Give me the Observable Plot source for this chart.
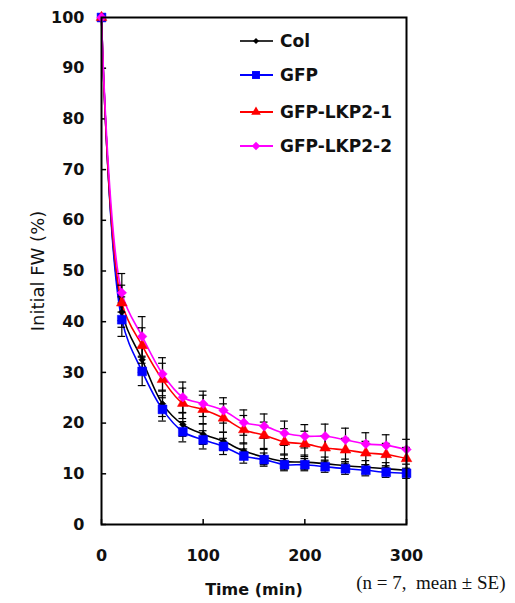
<!DOCTYPE html>
<html><head><meta charset="utf-8">
<script src="https://cdn.jsdelivr.net/npm/d3@7"></script>
<script src="https://cdn.jsdelivr.net/npm/@observablehq/plot@0.6"></script>
<style>
body{margin:0;background:#fff;}
#wrap{position:relative;width:515px;height:603px;}
#legend{position:absolute;left:0;top:0;}
</style></head>
<body><div id="wrap"></div>
<script>
const time = [0,20,40,60,80,100,120,140,160,180,200,220,240,260,280,300];
const seriesNames = ["Col","GFP","GFP-LKP2-1","GFP-LKP2-2"];
const colValues  = [100,41.9,32.5,23.8,19.7,17.8,16.4,14.5,13.3,12.4,12.3,12.0,11.6,11.3,11.0,10.7];
const gfpValues  = [100,40.4,30.2,22.7,18.3,16.7,15.4,13.5,12.8,11.8,11.8,11.4,11.0,10.7,10.3,10.1];
const lkp1Values = [100,43.7,35.3,28.6,23.9,22.7,21.0,18.7,17.6,16.3,15.9,15.1,14.7,14.1,13.8,13.0];
const lkp2Values = [100,45.7,37.1,29.7,25.1,23.8,22.5,20.1,19.4,18.0,17.4,17.4,16.7,15.9,15.6,14.8];
const colSE  = [0,3.0,2.5,2.5,2.3,2.0,1.8,1.6,1.5,1.5,1.4,1.3,1.3,1.3,1.2,1.2];
const gfpSE  = [0,3.3,2.8,2.3,2.0,1.8,1.6,1.4,1.3,1.2,1.2,1.1,1.1,1.1,1.0,1.0];
const lkp1SE = [0,3.5,3.5,3.2,3.0,2.8,2.8,2.8,2.6,2.6,2.5,2.4,2.3,2.3,2.2,2.2];
const lkp2SE = [0,3.8,3.9,3.2,3.0,2.5,2.5,2.5,2.4,2.4,2.3,2.4,2.3,2.2,2.1,2.0];
const xTicks = [0,100,200,300];
const yTicks = [0,10,20,30,40,50,60,70,80,90,100];

const colors = ["#000000","#0000ff","#ff0000","#ff00ff"];
const symbols = ["diamond2","square","triangle","diamond2"];
const radii = [3,5,4,4.3];
const allValues = [colValues,gfpValues,lkp1Values,lkp2Values];
const allSE = [colSE,gfpSE,lkp1SE,lkp2SE];

const rows = [];
seriesNames.forEach((s,k)=>time.forEach((t,i)=>rows.push({series:s,k,t,v:allValues[k][i],se:allSE[k][i]})));
const errRows = rows.filter(d=>d.se>0);
const capHalf = 3.8;

const marks = [
  Plot.ruleY(yTicks,{y:d=>d,x1:0,x2:5,stroke:"#000",strokeWidth:1.5}),
  Plot.ruleX(xTicks,{x:d=>d,y1:0,y2:1,stroke:"#000",strokeWidth:1.5}),
];
seriesNames.forEach((s,k)=>{
  const d = rows.filter(r=>r.k===k);
  marks.push(Plot.line(d,{x:"t",y:"v",stroke:colors[k],strokeWidth:1.6,curve:"catmull-rom"}));
});
marks.push(
  Plot.ruleX(errRows,{x:"t",y1:d=>d.v-d.se,y2:d=>d.v+d.se,stroke:"#000",strokeWidth:1.2}),
  Plot.ruleY(errRows,{y:d=>d.v+d.se,x1:d=>d.t-capHalf,x2:d=>d.t+capHalf,stroke:"#000",strokeWidth:1.2}),
  Plot.ruleY(errRows,{y:d=>d.v-d.se,x1:d=>d.t-capHalf,x2:d=>d.t+capHalf,stroke:"#000",strokeWidth:1.2})
);
seriesNames.forEach((s,k)=>{
  const d = rows.filter(r=>r.k===k);
  marks.push(Plot.dot(d,{x:"t",y:"v",fill:colors[k],stroke:colors[k],strokeWidth:0.5,symbol:()=>symbols[k],r:radii[k]}));
});
marks.push(
  Plot.frame({stroke:"#000",strokeWidth:2}),
  Plot.axisY(yTicks,{anchor:"left",tickSize:0,tickPadding:17,fontWeight:"bold",fontSize:16,fill:"#111",label:null}),
  Plot.axisX(xTicks,{anchor:"bottom",tickSize:0,tickPadding:25,fontWeight:"bold",fontSize:16,fill:"#111",label:null}),
  Plot.text(["Time (min)"],{frameAnchor:"bottom",dy:70,fontWeight:"bold",fontSize:16,fill:"#111"}),
  Plot.text(["Initial FW (%)"],{frameAnchor:"left",textAnchor:"middle",dx:-63,rotate:-90,fontSize:18,fill:"#111",letterSpacing:2.2}),
  Plot.text(["(n = 7,  mean ± SE)"],{frameAnchor:"bottom-right",textAnchor:"end",dx:99,dy:64,fontSize:19,fontFamily:"Liberation Serif",fontWeight:"normal",fill:"#111",letterSpacing:0.6})
);

const chart = Plot.plot({
  width:515, height:603,
  marginLeft:101, marginRight:109, marginTop:17, marginBottom:79,
  style:{fontFamily:"DejaVu Sans",background:"#fff",overflow:"visible"},
  x:{domain:[0,300],axis:null},
  y:{domain:[0,100],axis:null},
  marks
});
const wrap = document.getElementById("wrap");
wrap.appendChild(chart);

// legend overlay
const lg = d3.select(wrap).append("svg").attr("id","legend").attr("width",515).attr("height",603);
const sym = {diamond2:d3.symbolDiamond2,square:d3.symbolSquare,triangle:d3.symbolTriangle};
const rowY = [41,75,112,146];
seriesNames.forEach((s,k)=>{
  const g = lg.append("g").attr("transform",`translate(0,${rowY[k]})`);
  g.append("line").attr("x1",240).attr("x2",273).attr("y1",0).attr("y2",0).attr("stroke",k===0?"#333":colors[k]).attr("stroke-width",1.8);
  g.append("path").attr("transform","translate(256,0)").attr("d",d3.symbol(sym[symbols[k]],Math.PI*radii[k]*radii[k]*0.8)()).attr("fill",colors[k]);
  g.append("text").attr("x",280).attr("y",0).attr("dy","0.36em").attr("font-family","DejaVu Sans").attr("font-weight","bold").attr("font-size",17).attr("fill","#111").text(s);
});
</script></body></html>
